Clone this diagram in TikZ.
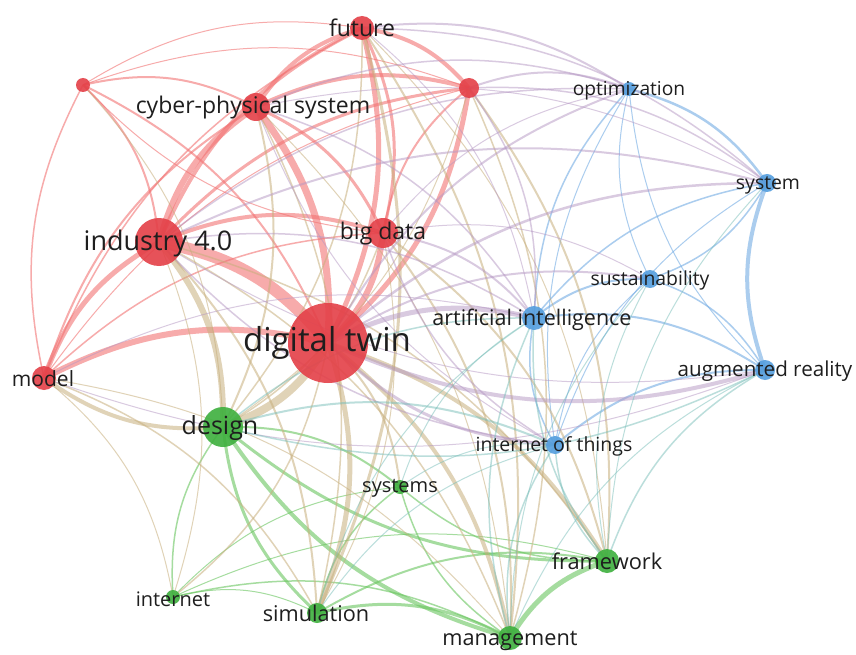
\documentclass[tikz,border=0pt]{standalone}
\usepackage{fontspec}
\setmainfont{Open Sans}
\usetikzlibrary{backgrounds}
\definecolor{VRed}{RGB}{228,64,72}
\definecolor{VGreen}{RGB}{62,176,62}
\definecolor{VBlue}{RGB}{84,158,222}
\definecolor{eRR}{RGB}{242,115,115}
\definecolor{eGG}{RGB}{105,198,95}
\definecolor{eBB}{RGB}{115,172,228}
\definecolor{eRG}{RGB}{200,175,125}
\definecolor{eRB}{RGB}{180,150,195}
\definecolor{eGB}{RGB}{120,190,185}
\definecolor{Txt}{RGB}{30,30,30}
\tikzset{
  rnode/.style={circle,inner sep=0pt,fill=VRed,fill opacity=0.9,draw=none},
  gnode/.style={circle,inner sep=0pt,fill=VGreen,fill opacity=0.9,draw=none},
  bnode/.style={circle,inner sep=0pt,fill=VBlue,fill opacity=0.9,draw=none},
  lab/.style={text=Txt,inner sep=0pt,anchor=center},
  rr/.style={draw=eRR,draw opacity=0.6},
  gg/.style={draw=eGG,draw opacity=0.6},
  bb/.style={draw=eBB,draw opacity=0.6},
  rg/.style={draw=eRG,draw opacity=0.55},
  rb/.style={draw=eRB,draw opacity=0.5},
  gb/.style={draw=eGB,draw opacity=0.5},
}
\newcommand\E[4]{\draw[line width=#3pt,#4] (#1.center) to[bend left=20] (#2.center);}
\begin{document}
\begin{tikzpicture}[x=1pt,y=-1pt]
\useasboundingbox (0,0) rectangle (856,655);
% nodes (circles)
\node[rnode,minimum size=80pt] (dt) at (328,343) {};
\node[rnode,minimum size=48pt] (ind) at (159,242) {};
\node[rnode,minimum size=28pt] (cps) at (256,107) {};
\node[rnode,minimum size=24pt] (fut) at (362,28) {};
\node[rnode,minimum size=30pt] (bd) at (383,233) {};
\node[rnode,minimum size=14pt] (r1) at (83,85) {};
\node[rnode,minimum size=20pt] (r2) at (469,88) {};
\node[rnode,minimum size=24pt] (mod) at (44,378) {};
\node[gnode,minimum size=40pt] (des) at (223,427) {};
\node[gnode,minimum size=14pt] (sys) at (400,487) {};
\node[gnode,minimum size=14pt] (inet) at (173,597) {};
\node[gnode,minimum size=20pt] (sim) at (317,613) {};
\node[gnode,minimum size=24pt] (man) at (510,638) {};
\node[gnode,minimum size=24pt] (fw) at (607,561) {};
\node[bnode,minimum size=14pt] (opt) at (629,89) {};
\node[bnode,minimum size=18pt] (syst) at (767,183) {};
\node[bnode,minimum size=18pt] (sus) at (650,279) {};
\node[bnode,minimum size=24pt] (ai) at (534,318) {};
\node[bnode,minimum size=20pt] (ar) at (765,370) {};
\node[bnode,minimum size=18pt] (iot) at (555,445) {};
\begin{scope}[on background layer]
\fill[white] (0,0) rectangle (856,655);
% red-red
\E{ind}{dt}{12}{rr} \E{cps}{dt}{7}{rr} \E{fut}{dt}{5}{rr} \E{bd}{dt}{6}{rr}
\E{r1}{dt}{2}{rr} \E{r2}{dt}{5}{rr} \E{mod}{dt}{6}{rr} \E{ind}{cps}{6}{rr}
\E{ind}{fut}{4}{rr} \E{ind}{bd}{4}{rr} \E{r1}{ind}{2}{rr} \E{ind}{r2}{3}{rr}
\E{mod}{ind}{5}{rr} \E{cps}{fut}{4}{rr} \E{cps}{bd}{3}{rr} \E{r1}{cps}{2}{rr}
\E{cps}{r2}{4}{rr} \E{mod}{cps}{2}{rr} \E{fut}{bd}{3}{rr} \E{r1}{fut}{1}{rr}
\E{fut}{r2}{4}{rr} \E{mod}{fut}{1.5}{rr} \E{bd}{r1}{1}{rr} \E{bd}{r2}{2}{rr}
\E{mod}{bd}{1.5}{rr} \E{r1}{r2}{1}{rr} \E{mod}{r1}{1.5}{rr} \E{mod}{r2}{1}{rr}
% green-green
\E{des}{sys}{2}{gg} \E{inet}{des}{1.5}{gg} \E{sim}{des}{3}{gg} \E{man}{des}{4}{gg}
\E{fw}{des}{3}{gg} \E{inet}{sys}{1}{gg} \E{sim}{sys}{1.5}{gg} \E{man}{sys}{1.5}{gg}
\E{fw}{sys}{1.5}{gg} \E{inet}{sim}{1}{gg} \E{inet}{man}{1.5}{gg} \E{inet}{fw}{1}{gg}
\E{sim}{man}{3}{gg} \E{sim}{fw}{2}{gg} \E{man}{fw}{5}{gg}
% blue-blue
\E{opt}{syst}{2.5}{bb} \E{sus}{opt}{1}{bb} \E{ai}{opt}{1.5}{bb} \E{ar}{opt}{1}{bb}
\E{iot}{opt}{1}{bb} \E{syst}{sus}{1.5}{bb} \E{ai}{syst}{1.5}{bb} \E{ar}{syst}{4}{bb}
\E{iot}{syst}{1}{bb} \E{ai}{sus}{2}{bb} \E{sus}{ar}{1.5}{bb} \E{iot}{sus}{1}{bb}
\E{ai}{ar}{2}{bb} \E{iot}{ai}{1.5}{bb} \E{iot}{ar}{2}{bb}
% red-green
\E{dt}{des}{8}{rg} \E{dt}{sys}{2}{rg} \E{dt}{inet}{1.5}{rg} \E{dt}{sim}{5}{rg}
\E{dt}{man}{4}{rg} \E{dt}{fw}{4}{rg} \E{ind}{des}{6}{rg} \E{ind}{sim}{2}{rg}
\E{ind}{man}{1.5}{rg} \E{ind}{inet}{1}{rg} \E{ind}{fw}{1.5}{rg} \E{des}{mod}{4}{rg}
\E{mod}{sim}{1.5}{rg} \E{mod}{inet}{1}{rg} \E{mod}{man}{1}{rg} \E{cps}{des}{2}{rg}
\E{cps}{sim}{1.5}{rg} \E{cps}{man}{1}{rg} \E{fut}{des}{1.5}{rg} \E{fut}{sim}{3}{rg}
\E{fut}{man}{2}{rg} \E{fut}{fw}{1}{rg} \E{bd}{des}{1.5}{rg} \E{bd}{sim}{1}{rg}
\E{bd}{man}{2}{rg} \E{bd}{fw}{2}{rg} \E{r2}{man}{1.5}{rg} \E{r2}{fw}{2}{rg}
\E{r2}{des}{1}{rg} \E{r1}{des}{1}{rg}
% red-blue
\E{dt}{ai}{5}{rb} \E{ar}{dt}{4}{rb} \E{dt}{syst}{2.5}{rb} \E{dt}{opt}{2}{rb}
\E{dt}{sus}{2}{rb} \E{iot}{dt}{3}{rb} \E{ind}{ai}{1.5}{rb} \E{ind}{syst}{2}{rb}
\E{ind}{opt}{1.5}{rb} \E{ar}{ind}{1}{rb} \E{iot}{ind}{1.5}{rb} \E{cps}{ai}{1.5}{rb}
\E{cps}{opt}{1.5}{rb} \E{cps}{syst}{1}{rb} \E{iot}{cps}{1}{rb} \E{fut}{opt}{2}{rb}
\E{fut}{syst}{1.5}{rb} \E{fut}{ai}{1}{rb} \E{bd}{ai}{2}{rb} \E{iot}{bd}{1.5}{rb}
\E{bd}{opt}{1}{rb} \E{bd}{sus}{1}{rb} \E{r2}{opt}{2}{rb} \E{r2}{syst}{1.5}{rb}
\E{r2}{ai}{1.5}{rb} \E{mod}{ai}{1}{rb} \E{ar}{mod}{1}{rb}
% green-blue
\E{des}{ai}{1.5}{gb} \E{des}{iot}{2}{gb} \E{ar}{des}{1.5}{gb} \E{fw}{ai}{1.5}{gb}
\E{fw}{ar}{1.5}{gb} \E{fw}{iot}{1.5}{gb} \E{fw}{syst}{1}{gb} \E{fw}{sus}{1}{gb}
\E{man}{ai}{1.5}{gb} \E{man}{iot}{1.5}{gb} \E{man}{ar}{1}{gb} \E{man}{sus}{1}{gb}
\E{sim}{iot}{1}{gb} \E{sim}{ai}{1}{gb} \E{sys}{ai}{1}{gb} \E{sys}{iot}{1}{gb}
\end{scope}
% labels
\node[lab,font=\fontsize{33}{33}\selectfont] (dtL) at (327,343) {digital twin};
\node[lab,font=\fontsize{27}{27}\selectfont] (indL) at (158,243) {industry 4.0};
\node[lab,font=\fontsize{23}{23}\selectfont] (cpsL) at (253,108) {cyber-physical system};
\node[lab,font=\fontsize{23}{23}\selectfont] (futL) at (362,28) {future};
\node[lab,font=\fontsize{23}{23}\selectfont] (bdL) at (383,234) {big data};
\node[lab,font=\fontsize{21}{21}\selectfont] (modL) at (43,379) {model};
\node[lab,font=\fontsize{25}{25}\selectfont] (desL) at (220,428) {design};
\node[lab,font=\fontsize{20}{20}\selectfont] (sysL) at (400,488) {systems};
\node[lab,font=\fontsize{20}{20}\selectfont] (inetL) at (173,599) {internet};
\node[lab,font=\fontsize{21.7}{21.7}\selectfont] (simL) at (316,613) {simulation};
\node[lab,font=\fontsize{21.7}{21.7}\selectfont] (manL) at (510,641) {management};
\node[lab,font=\fontsize{21.8}{21.8}\selectfont] (fwL) at (607,561) {framework};
\node[lab,font=\fontsize{19.2}{19.2}\selectfont] (optL) at (629,91) {optimization};
\node[lab,font=\fontsize{19.4}{19.4}\selectfont] (systL) at (768,185) {system};
\node[lab,font=\fontsize{19.4}{19.4}\selectfont] (susL) at (650,280) {sustainability};
\node[lab,font=\fontsize{21.5}{21.5}\selectfont] (aiL) at (532,320) {artificial intelligence};
\node[lab,font=\fontsize{20.6}{20.6}\selectfont] (arL) at (765,371) {augmented reality};
\node[lab,font=\fontsize{19.5}{19.5}\selectfont] (iotL) at (554,446) {internet of things};
\end{tikzpicture}
\end{document}
